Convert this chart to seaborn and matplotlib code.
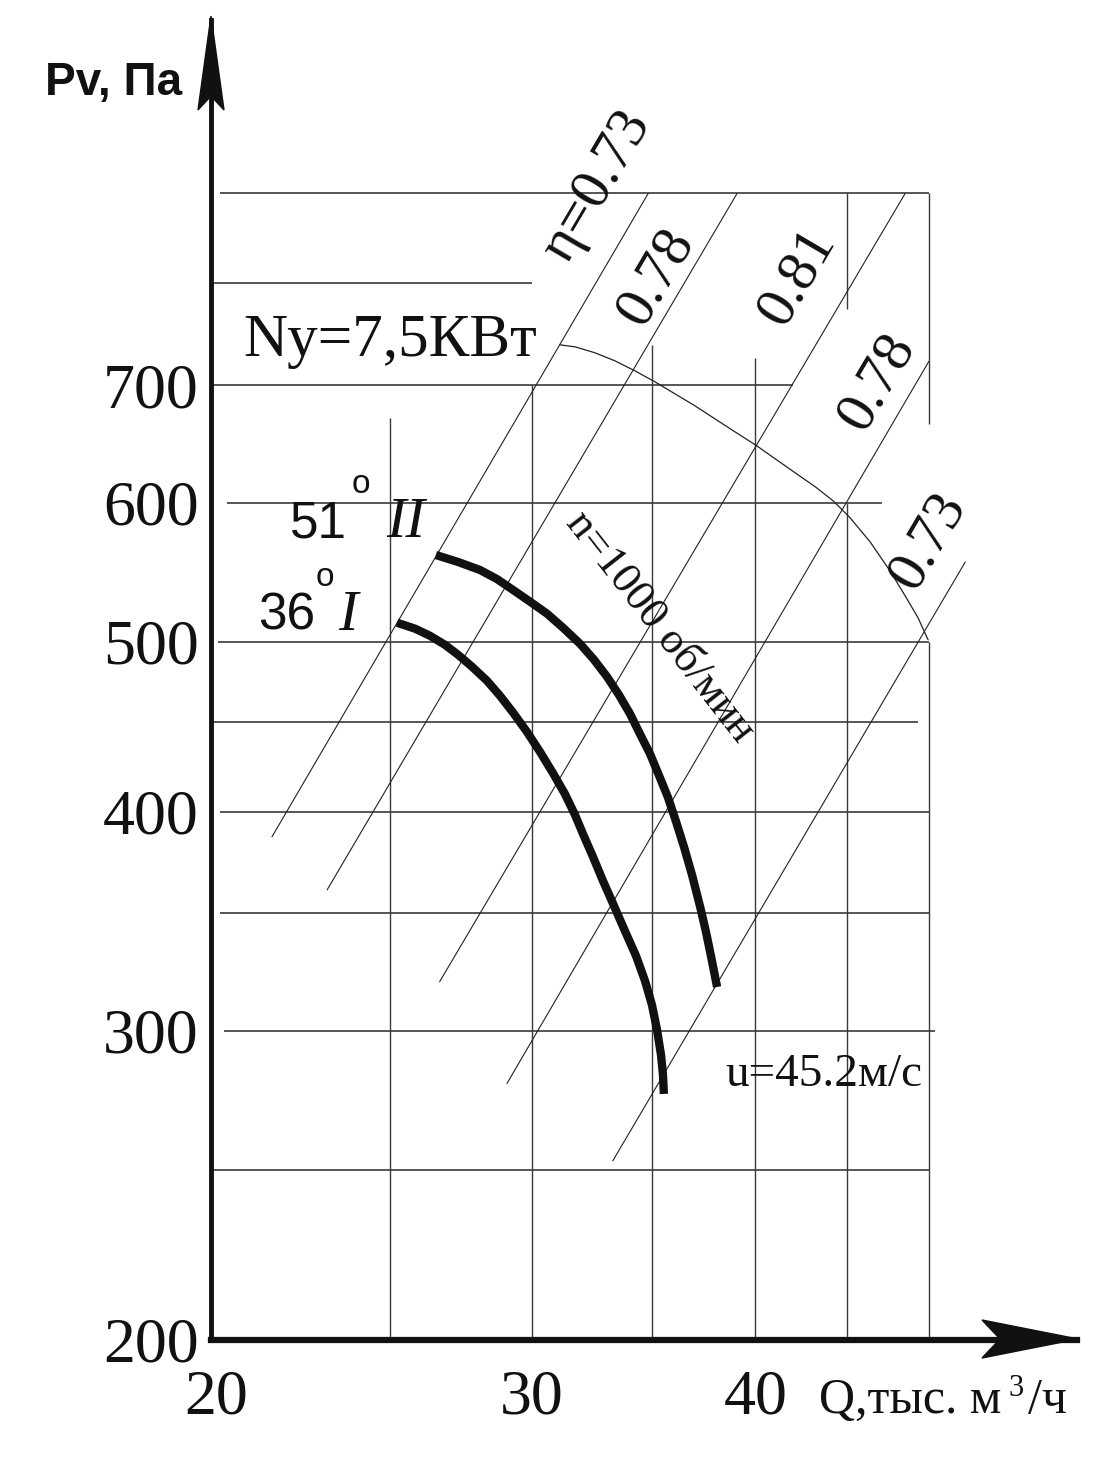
import numpy as np
import pandas as pd
import matplotlib
matplotlib.use("Agg")
import matplotlib.pyplot as plt
import seaborn as sns
from matplotlib.patches import Polygon
from matplotlib.ticker import NullLocator, NullFormatter, FixedLocator, FixedFormatter

# ---------------- data ----------------
# fan curves: Q [thousand m3/h], Pv [Pa]
curve_II_q = [26.52, 27.29, 28.07, 28.69, 29.29, 29.94, 30.60, 31.23, 31.92, 32.50, 33.05, 33.56,
              34.04, 34.48, 34.93, 35.33, 35.74, 36.11, 36.49, 36.87, 37.26, 37.54, 37.79, 38.08]
curve_II_p = [560.1, 555.0, 549.2, 542.7, 535.0, 526.8, 518.6, 509.2, 498.6, 488.3, 477.5, 466.3,
              454.9, 443.0, 431.6, 419.7, 407.8, 395.2, 382.0, 368.2, 353.0, 341.6, 330.6, 317.8]
curve_I_q = [25.23, 25.82, 26.32, 26.83, 27.29, 27.78, 28.32, 28.80, 29.29, 29.82, 30.32, 30.83, 31.31,
             31.72, 32.08, 32.46, 32.88, 33.35, 33.82, 34.31, 34.71, 35.02, 35.25, 35.43, 35.52, 35.56]
curve_I_p = [512.5, 508.5, 503.8, 497.9, 491.4, 483.8, 475.0, 465.7, 455.5, 444.1, 432.7, 420.8, 409.4,
             398.3, 387.5, 377.0, 365.3, 353.5, 342.1, 331.0, 320.3, 310.4, 300.4, 290.7, 283.2, 276.2]

# boundary line n=1000 rpm
arc_q = [31.11, 31.72, 32.54, 33.39, 34.26, 35.15, 36.07, 37.01, 37.97, 38.96, 39.99,
         41.03, 42.10, 43.20, 44.21, 45.18, 46.36, 47.57, 48.50, 49.31, 49.95]
arc_p = [737.9, 736.0, 730.3, 722.6, 713.2, 703.0, 692.0, 681.2, 669.7, 658.4, 647.3,
         635.5, 623.9, 612.6, 601.4, 588.2, 569.9, 548.5, 530.9, 515.9, 501.2]

# efficiency lines (start / end)
eta_labels = ["η=0.73", "0.78", "0.81", "0.78", "0.73"]
eta_q0 = [21.48, 23.06, 26.65, 29.06, 33.30]
eta_p0 = [387.0, 361.0, 320.0, 280.0, 253.0]
eta_q1 = [34.85, 39.07, 48.50, 50.00, 52.40]
eta_p1 = [900.0, 900.0, 900.0, 722.0, 555.0]
eta_label_q = [32.63, 35.20, 42.20, 46.78, 49.95]
eta_label_p = [907.8, 806.8, 806.8, 703.0, 570.6]

# grid
h_vals = [900, 800, 700, 600, 500, 450, 400, 350, 300, 250]
h_start = [20.09, 19.9, 19.9, 20.27, 20.05, 19.9, 20.1, 20.09, 20.2, 19.9]
h_end = [50.0, 30.0, 42.0, 47.1, 50.0, 49.3, 50.0, 50.0, 50.4, 50.0]
v_vals = [25, 30, 35, 40, 45, 45, 50, 50]
v_lo = [200, 200, 200, 200, 773.5, 200, 665.5, 200]
v_hi = [670, 700, 738, 725, 900, 600, 900, 500]

x_ticks = [20, 30, 40]
x_ticklabels = ["20", "30", "40"]
y_ticks = [200, 300, 400, 500, 600, 700]
y_ticklabels = ["200", "300", "400", "500", "600", "700"]

# ---------------- figure ----------------
sns.set_theme(style="white")
plt.rcParams["font.family"] = ["Liberation Serif", "DejaVu Serif"]

W, H = 1098, 1467
fig = plt.figure(figsize=(W / 100, H / 100), dpi=100)
fig.patch.set_facecolor("white")
ax = fig.add_axes([211 / W, 1 - 1340 / H, 866 / W, 1320 / H])
ax.set_facecolor("white")

def px(x, y):
    return (x / W, 1 - y / H)

# grid lines
ax.hlines(h_vals, h_start, h_end, colors="#3a3a3a", linewidth=1.2, zorder=1)
ax.vlines(v_vals, v_lo, v_hi, colors="#3a3a3a", linewidth=1.0, zorder=1)

# efficiency lines
for q0, p0, q1, p1 in zip(eta_q0, eta_p0, eta_q1, eta_p1):
    ax.plot([q0, q1], [p0, p1], color="#222222", linewidth=0.8, zorder=2)

# n=1000 boundary
ax.plot(arc_q, arc_p, color="#222222", linewidth=0.9, zorder=2)

# fan curves
df_II = pd.DataFrame({"Q": curve_II_q, "P": curve_II_p})
df_I = pd.DataFrame({"Q": curve_I_q, "P": curve_I_p})
sns.lineplot(data=df_II, x="Q", y="P", sort=False, estimator=None, color="#111111",
             linewidth=6, ax=ax, zorder=4, solid_capstyle="butt", solid_joinstyle="round")
sns.lineplot(data=df_I, x="Q", y="P", sort=False, estimator=None, color="#111111",
             linewidth=6, ax=ax, zorder=4, solid_capstyle="butt", solid_joinstyle="round")

ax.set_xscale("log")
ax.set_yscale("log")
ax.set_xlim(19.86, 60.5)
ax.set_ylim(200, 1130)
ax.set_xlabel("")
ax.set_ylabel("")

for a in (ax.xaxis, ax.yaxis):
    a.set_minor_locator(NullLocator())
    a.set_minor_formatter(NullFormatter())
ax.xaxis.set_major_locator(FixedLocator(x_ticks))
ax.xaxis.set_major_formatter(FixedFormatter(x_ticklabels))
ax.yaxis.set_major_locator(FixedLocator(y_ticks))
ax.yaxis.set_major_formatter(FixedFormatter(y_ticklabels))
ax.tick_params(axis="both", length=0, labelsize=46, colors="#111111")
ax.tick_params(axis="x", pad=21)
ax.tick_params(axis="y", pad=9)

for s in ("top", "right"):
    ax.spines[s].set_visible(False)
ax.spines["left"].set_linewidth(3.5)
ax.spines["bottom"].set_linewidth(4.5)
ax.spines["left"].set_color("#111111")
ax.spines["bottom"].set_color("#111111")
ax.grid(False)

# arrowheads
fig.add_artist(Polygon([px(211, 16), px(198, 110), px(211, 96), px(224, 110)],
                       closed=True, transform=fig.transFigure, color="#111111", zorder=10))
fig.add_artist(Polygon([px(1078, 1339), px(982, 1320), px(1000, 1339), px(982, 1358)],
                       closed=True, transform=fig.transFigure, color="#111111", zorder=10))

# efficiency labels
for lab, q, p in zip(eta_labels, eta_label_q, eta_label_p):
    ax.text(q, p, lab, fontsize=42, rotation=59.5, ha="center", va="center",
            rotation_mode="anchor", color="#111111", zorder=5)

ax.text(35.39, 509.8, "n=1000 об/мин", fontsize=32, rotation=-52, ha="center", va="center",
        rotation_mode="anchor", color="#111111", zorder=5)

# text annotations in figure pixels
fig.text(*px(45, 95), "Pv, Па", fontsize=33, fontweight="bold",
         family=["Liberation Sans", "DejaVu Sans"], ha="left", va="baseline", color="#111111")
fig.text(*px(243, 356), "Ny=7,5КВт", fontsize=44, ha="left", va="baseline", color="#111111")
fig.text(*px(725, 1086), "u=45.2м/с", fontsize=34, ha="left", va="baseline", color="#111111")

fig.text(*px(290, 537), "51", fontsize=37, family=["Liberation Sans", "DejaVu Sans"],
         ha="left", va="baseline", color="#111111")
fig.text(*px(352, 493), "o", fontsize=24, family=["Liberation Sans", "DejaVu Sans"],
         ha="left", va="baseline", color="#111111")
fig.text(*px(386, 537), "II", fontsize=42, style="italic", ha="left", va="baseline", color="#111111")
fig.text(*px(258, 630), "36", fontsize=37, family=["Liberation Sans", "DejaVu Sans"],
         ha="left", va="baseline", color="#111111")
fig.text(*px(316, 586), "o", fontsize=24, family=["Liberation Sans", "DejaVu Sans"],
         ha="left", va="baseline", color="#111111")
fig.text(*px(338, 630), "I", fontsize=42, style="italic", ha="left", va="baseline", color="#111111")

fig.text(*px(819, 1413), "Q,тыс. м", fontsize=36, ha="left", va="baseline", color="#111111")
fig.text(*px(1008, 1396), "3", fontsize=22, ha="left", va="baseline", color="#111111")
fig.text(*px(1028, 1413), "/ч", fontsize=36, ha="left", va="baseline", color="#111111")

fig.savefig("out.png", dpi=100, facecolor="white")
